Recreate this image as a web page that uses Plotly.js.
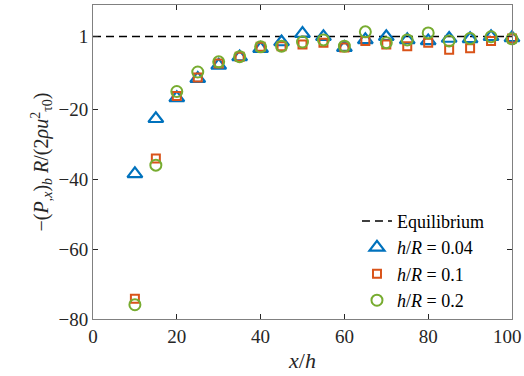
<!DOCTYPE html>
<html>
<head>
<meta charset="utf-8">
<script src="https://cdn.plot.ly/plotly-3.0.1.min.js"></script>
<style>html,body{margin:0;padding:0;background:#fff;overflow:hidden;}#chart{width:524px;height:376px;}</style>
</head>
<body>
<div id="chart"></div>
<script>
const xh = [10,15,20,25,30,35,40,45,50,55,60,65,70,75,80,85,90,95,100];
const hR004 = [-38.4,-22.6,-16.6,-11.1,-7.3,-4.9,-2.5,-0.6,1.8,0.9,-2.2,0.0,0.9,0.0,-0.3,0.4,0.3,0.9,0.6];
const hR01  = [-74.2,-34.0,-16.1,-10.8,-6.8,-4.8,-2.0,-1.8,-1.3,-0.8,-2.2,-0.3,-1.3,-1.8,-0.8,-2.8,-2.4,-0.3,0.4];
const hR02  = [-75.9,-35.9,-14.8,-9.2,-6.3,-4.8,-2.0,-1.8,-0.6,0.0,-1.8,2.3,-0.8,0.0,2.0,-0.3,0.4,0.9,0.3];
const eqX = [0,100];
const eqY = [1,1];
const yTickVals = [1,-20,-40,-60,-80];
const yTickText = ['1','\u221220','\u221240','\u221260','\u221280'];
const xTickVals = [0,20,40,60,80,100];
const xTickText = ['0','20','40','60','80','100\u2002'];

const font = 'Liberation Serif';
const traces = [
  {x:eqX, y:eqY, mode:'lines', name:'Equilibrium', line:{color:'#000', width:1.5, dash:'8px,5px'}},
  {x:xh, y:hR004, mode:'markers', name:'<i>h</i>/<i>R</i> = 0.04', cliponaxis:false,
   marker:{symbol:'triangle-up-open', size:13, color:'#0072BD', line:{width:2.2, color:'#0072BD'}}},
  {x:xh, y:hR01, mode:'markers', name:'<i>h</i>/<i>R</i> = 0.1', cliponaxis:false,
   marker:{symbol:'square-open', size:8, color:'#D95319', line:{width:2, color:'#D95319'}}},
  {x:xh, y:hR02, mode:'markers', name:'<i>h</i>/<i>R</i> = 0.2', cliponaxis:false,
   marker:{symbol:'circle-open', size:11, color:'#77AC30', line:{width:2, color:'#77AC30'}}}
];
const layout = {
  width:524, height:376,
  margin:{l:93, r:12, t:5, b:57},
  paper_bgcolor:'#fff', plot_bgcolor:'#fff',
  font:{family:font, size:19, color:'#262626'},
  showlegend:true,
  legend:{x:0.63, y:0.37, xanchor:'left', yanchor:'top', bgcolor:'rgba(255,255,255,0)',
          font:{family:font, size:18, color:'#000'}, tracegroupgap:0},
  xaxis:{range:[0,100], tickvals:xTickVals, ticktext:xTickText, ticks:'inside', ticklen:5, tickcolor:'#262626',
         showline:true, linecolor:'#808080', linewidth:1, mirror:'ticks', showgrid:false, zeroline:false,
         ticklabeloverflow:'allow',
         tickfont:{size:19, family:font, color:'#262626'},
         title:{text:'<i>x</i>/<i>h</i>', font:{size:22, family:font, color:'#262626'}, standoff:6}},
  yaxis:{range:[-80,10], tickvals:yTickVals, ticktext:yTickText, ticks:'inside', ticklen:5, tickcolor:'#262626',
         showline:true, linecolor:'#808080', linewidth:1, mirror:'ticks', showgrid:false, zeroline:false,
         tickfont:{size:19, family:font, color:'#262626'},
         title:{text:'\u2212(<i>P</i><sub>,<i>x</i></sub>)<sub><i>b</i></sub> <i>R</i>/(2<i>\u03C1u</i><sup>2</sup><sub>\u03C40</sub>)',
                font:{size:20, family:font, color:'#262626'}, standoff:4}}
};
Plotly.newPlot('chart', traces, layout, {displayModeBar:false, staticPlot:true});
</script>
</body>
</html>
